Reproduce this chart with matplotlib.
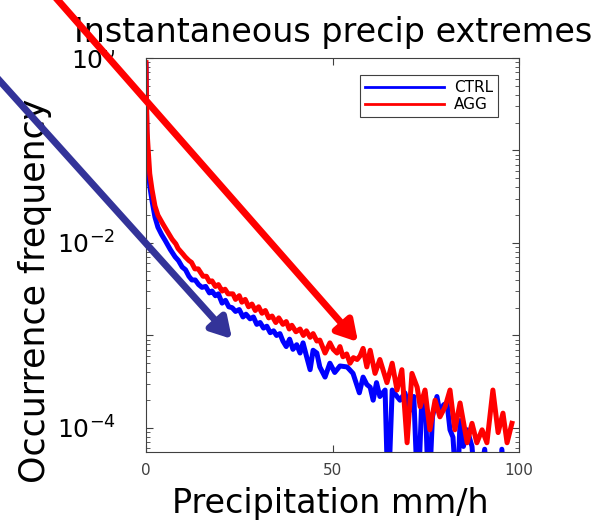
import numpy as np
import matplotlib.pyplot as plt
from matplotlib.patches import FancyArrowPatch
from matplotlib.ticker import LogLocator, NullFormatter

# precipitation rate (mm/h) and log10 of occurrence frequency
ctrl_x = [0.0, 0.15, 0.3, 0.5, 1.0, 1.6, 2.4, 3.2, 4.2, 5.1, 6.5, 7.8, 8.7, 9.7,
          10.6, 11.5, 12.3, 13.2, 14.1, 15.0, 16.0, 17.0, 17.7, 18.6, 19.4, 20.4,
          21.3, 22.2, 23.1, 24.0, 25.0, 26.0, 26.8, 27.9, 28.8, 29.7, 30.6, 31.5,
          32.4, 33.3, 34.2, 35.0, 35.9, 36.7, 37.6, 38.5, 39.4, 40.4, 41.3, 42.1,
          43.0, 44.0, 44.8, 45.8, 46.6, 48.0, 49.3, 50.6, 52.0, 53.9, 55.5, 57.2,
          58.2, 59.2, 60.1, 60.9, 61.8, 62.7, 64.1, 64.9, 66.0, 67.3, 68.1, 69.4,
          70.8, 71.8, 72.9, 73.9, 74.8, 75.8, 76.8, 78.0, 78.8, 79.8, 80.7, 81.5,
          82.3, 83.4, 84.2, 85.1, 86.1, 87.4, 88.5, 90.8, 92.0, 95.0, 95.4, 96.5]
ctrl_log = [-0.07, -0.60, -0.95, -1.10, -1.38, -1.54, -1.72, -1.83, -1.91, -1.97,
            -2.07, -2.15, -2.19, -2.26, -2.29, -2.36, -2.40, -2.40, -2.45, -2.48,
            -2.47, -2.54, -2.52, -2.57, -2.55, -2.65, -2.62, -2.69, -2.70, -2.74,
            -2.72, -2.80, -2.77, -2.82, -2.80, -2.88, -2.86, -2.92, -2.90, -2.97,
            -2.95, -3.00, -2.98, -3.06, -3.12, -3.04, -3.15, -3.10, -3.19, -3.08,
            -3.22, -3.37, -3.16, -3.19, -3.34, -3.45, -3.30, -3.40, -3.33, -3.34,
            -3.41, -3.62, -3.45, -3.53, -3.56, -3.70, -3.51, -3.66, -3.59, -4.80,
            -3.59, -3.66, -3.70, -3.62, -3.81, -3.66, -4.80, -3.73, -3.62, -4.80,
            -3.88, -3.66, -3.84, -3.75, -3.73, -4.02, -4.10, -4.80, -3.92, -4.20,
            -4.02, -4.20, -4.80, -4.23, -4.80, -4.80, -4.23, -4.80]

agg_x = [0.0, 0.15, 0.3, 0.6, 1.0, 1.6, 2.4, 3.2, 4.6, 5.5, 7.0, 8.0, 8.6, 9.9,
         10.5, 11.5, 12.2, 13.1, 14.0, 15.3, 16.2, 17.0, 17.7, 18.6, 19.4, 20.4,
         21.2, 22.0, 23.3, 24.0, 25.0, 25.7, 26.6, 27.5, 28.4, 29.3, 30.2, 31.1,
         32.0, 32.9, 33.8, 34.8, 35.6, 36.7, 37.6, 38.4, 39.1, 40.2, 41.3, 42.2,
         43.0, 44.0, 44.8, 45.8, 46.6, 48.0, 49.3, 50.2, 51.2, 52.0, 52.8, 53.8,
         54.7, 55.6, 56.6, 57.4, 58.2, 59.2, 60.1, 61.4, 62.7, 64.6, 66.0, 67.3,
         68.6, 70.0, 71.3, 72.7, 73.5, 74.8, 76.1, 77.5, 78.8, 80.2, 81.5, 82.8,
         84.2, 86.1, 87.4, 88.7, 90.1, 91.4, 93.0, 94.4, 95.7, 96.8, 98.1]
agg_log = [-0.05, -0.50, -0.80, -1.00, -1.25, -1.42, -1.60, -1.70, -1.80, -1.86,
           -1.96, -2.01, -2.06, -2.12, -2.15, -2.19, -2.21, -2.28, -2.28, -2.36,
           -2.36, -2.42, -2.41, -2.47, -2.45, -2.52, -2.50, -2.55, -2.55, -2.61,
           -2.57, -2.64, -2.61, -2.69, -2.66, -2.73, -2.69, -2.76, -2.73, -2.81,
           -2.79, -2.86, -2.81, -2.88, -2.85, -2.93, -2.89, -2.96, -2.93, -3.00,
           -2.95, -3.02, -2.98, -3.06, -3.05, -3.19, -3.08, -3.15, -3.19, -3.12,
           -3.23, -3.20, -3.30, -3.24, -3.26, -3.22, -3.14, -3.34, -3.16, -3.41,
           -3.26, -3.51, -3.30, -3.59, -3.37, -4.16, -3.41, -3.56, -3.77, -3.59,
           -4.02, -3.70, -3.88, -3.77, -3.59, -4.02, -3.73, -4.16, -3.95, -4.16,
           -4.02, -4.16, -3.59, -4.05, -3.84, -4.16, -3.95]

W, H = 600, 524
fig = plt.figure(figsize=(6, 5.24), dpi=100)
ax = fig.add_axes([146 / W, 1 - 452 / H, 373 / W, 394 / H])

ax.semilogy(ctrl_x, 10 ** np.array(ctrl_log), color='#0000ff', lw=3.6, label='CTRL')
ax.semilogy(agg_x, 10 ** np.array(agg_log), color='#ff0000', lw=3.6, label='AGG')

ax.set_xlim(0, 100)
ax.set_ylim(10 ** -4.26, 1)
ax.set_xticks([0, 50, 100])
ax.set_xticklabels(['0', '50', '100'], fontsize=11, color='#404040')
ax.set_yticks([1, 1e-1, 1e-2, 1e-3, 1e-4])
ax.set_yticklabels(['$10^{0}$', '', '$10^{-2}$', '', '$10^{-4}$'], fontsize=18)
ax.yaxis.set_minor_locator(LogLocator(base=10, subs=np.arange(2, 10)))
ax.yaxis.set_minor_formatter(NullFormatter())
ax.tick_params(which='both', direction='in', top=True, right=True, color='#404040')
ax.tick_params(which='major', length=5)
ax.tick_params(which='minor', length=3)
ax.tick_params(axis='x', pad=8)
ax.tick_params(axis='y', pad=22)
for s in ax.spines.values():
    s.set_color('#404040')
    s.set_linewidth(0.8)

leg = ax.legend(loc='upper right', bbox_to_anchor=(0.944, 0.957), borderaxespad=0,
                fontsize=11, handlelength=5.2, handletextpad=0.6, labelspacing=0.12,
                borderpad=0.35, fancybox=False, framealpha=1)
leg.get_frame().set_edgecolor('#404040')
leg.get_frame().set_linewidth(0.8)
for ln in leg.get_lines():
    ln.set_linewidth(2)

fig.text(333 / W, 1 - 42 / H, 'Instantaneous precip extremes', ha='center', va='baseline',
         fontsize=24, bbox=dict(fc='white', ec='none', pad=1), zorder=5)
fig.text(330 / W, 1 - 513 / H, 'Precipitation mm/h', ha='center', va='baseline', fontsize=24)
fig.text(35 / W, 1 - 291 / H, 'Occurrence frequency', ha='center', va='center',
         rotation=90, fontsize=25)

# annotation arrows drawn over the figure
red_arrow = FancyArrowPatch((49 / W, 1 + 10 / H), (358 / W, 1 - 342 / H),
                            transform=fig.transFigure, color='#ff0000', lw=5,
                            arrowstyle='-|>,head_length=0.6,head_width=0.35',
                            mutation_scale=20, shrinkA=0, shrinkB=0, zorder=10)
blue_arrow = FancyArrowPatch((-10 / W, 1 - 70 / H), (232 / W, 1 - 339 / H),
                             transform=fig.transFigure, color='#333399', lw=5,
                             arrowstyle='-|>,head_length=0.6,head_width=0.35',
                             mutation_scale=20, shrinkA=0, shrinkB=0, zorder=10)
fig.add_artist(red_arrow)
fig.add_artist(blue_arrow)

fig.savefig('out.png', dpi=100)
